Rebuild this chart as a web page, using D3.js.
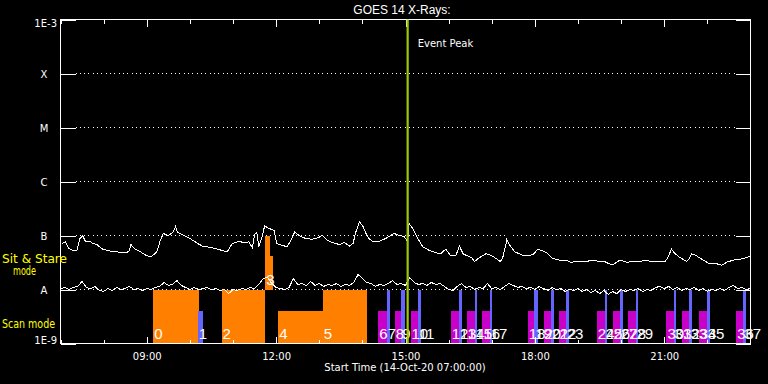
<!DOCTYPE html>
<html><head><meta charset="utf-8">
<script src="https://cdn.jsdelivr.net/npm/d3@7"></script>
<style>html,body{margin:0;padding:0;background:#000;} svg{display:block;}</style>
</head><body><svg id="chart" width="768" height="384"></svg>
<script>
// ---------------- data ----------------
const titleText = "GOES 14 X-Rays:";
const xAxisTitle = "Start Time (14-Oct-20 07:00:00)";
const day = "2020-10-14";
const timeStart = "07:00", timeEnd = "23:00";
const yTickValues = [1e-9, 1e-8, 1e-7, 1e-6, 1e-5, 1e-4, 1e-3];
const yTickLabels = ["1E-9", "A", "B", "C", "M", "X", "1E-3"];
const gridValues = [1e-8, 1e-7, 1e-6, 1e-5, 1e-4];
const xMajorTicks = ["09:00", "12:00", "15:00", "18:00", "21:00"];
const eventPeakTime = "15:03";
const eventPeakText = "Event Peak";

// long channel (1-8 A) flux, W/m^2
const longTimes = ["07:02","07:07","07:11","07:18","07:23","07:27","07:31","07:35","07:41","07:45","07:51","07:57","08:07","08:18","08:28","08:35","08:38","08:43","08:51","09:00","09:07","09:14","09:19","09:23","09:30","09:37","09:40","09:43","09:51","10:00","10:11",
"10:17","10:31","10:40","10:52","10:59","11:08","11:15","11:22","11:27","11:30","11:33","11:36","11:41","11:44","11:50","11:57","12:01","12:08","12:15","12:20","12:26","12:32","12:41","12:50","12:59","13:04","13:11","13:18","13:23",
"13:28","13:35","13:42","13:47","13:51","13:56","14:01","14:05","14:10","14:16","14:23","14:30","14:37","14:44","14:51","14:58","15:03","15:05","15:10","15:17","15:24","15:33","15:42","15:49","15:56","16:03","16:10","16:15","16:20","16:26","16:32",
"16:36","16:43","16:52","16:59","17:06","17:12","17:15","17:19","17:21","17:25","17:32","17:43","17:52","17:59","18:04","18:09","18:16","18:25","18:34","18:44","18:50","19:02","19:11","19:21","19:30","19:37","19:43",
"19:49","19:58","20:08","20:17","20:26","20:33","20:42","20:52","21:01","21:05","21:10","21:15","21:22","21:31","21:35","21:38","21:45","21:54","22:03","22:13","22:20","22:27","22:36","22:45","22:54","23:00"];
const longFlux = [7.1e-8,7.6e-8,5.9e-8,5.2e-8,5.3e-8,8.8e-8,9.9e-8,7.6e-8,7.8e-8,7.1e-8,6.8e-8,5.7e-8,5.2e-8,5.0e-8,4.8e-8,5.0e-8,6.8e-8,5.7e-8,5.0e-8,4.2e-8,4.1e-8,5.0e-8,8.2e-8,1.09e-7,9.9e-8,1.17e-7,1.45e-7,1.14e-7,1.01e-7,8.8e-8,7.1e-8,
6.4e-8,5.9e-8,5.5e-8,5.0e-8,7.1e-8,7.8e-8,7.4e-8,7.6e-8,5.9e-8,1.04e-7,1.14e-7,6.2e-8,1.01e-7,1.51e-7,1.35e-7,1.25e-7,7.1e-8,6.6e-8,6.2e-8,7.8e-8,1.17e-7,9.9e-8,8.8e-8,8.5e-8,9.1e-8,1.01e-7,8.2e-8,7.4e-8,7.1e-8,
6.8e-8,7.4e-8,6.4e-8,7.1e-8,1.17e-7,1.79e-7,1.45e-7,1.09e-7,8.5e-8,7.6e-8,7.8e-8,8.5e-8,9.5e-8,1.09e-7,1.01e-7,9.5e-8,7.8e-8,1.67e-7,1.35e-7,8.8e-8,6.2e-8,5.3e-8,4.8e-8,4.6e-8,5.6e-8,4.2e-8,4.2e-8,6.4e-8,4.6e-8,4.2e-8,3.9e-8,
3.3e-8,3.9e-8,4.6e-8,4.3e-8,3.75e-8,3.3e-8,3.75e-8,6.2e-8,8.5e-8,6.6e-8,5.0e-8,4.3e-8,4.2e-8,4.6e-8,5.6e-8,5.3e-8,4.8e-8,3.75e-8,3.5e-8,3.5e-8,3.2e-8,3.3e-8,3.3e-8,3.5e-8,3.3e-8,3.3e-8,3.0e-8,
2.9e-8,3.5e-8,3.2e-8,3.3e-8,3.3e-8,3.5e-8,3.3e-8,3.3e-8,3.3e-8,3.9e-8,5.6e-8,4.6e-8,3.9e-8,3.3e-8,3.75e-8,4.6e-8,4.2e-8,3.5e-8,3.0e-8,3.0e-8,2.8e-8,3.2e-8,3.5e-8,3.6e-8,3.9e-8,4.2e-8];

// short channel (0.5-4 A) flux in units of 1e-8 W/m^2, sampled every 6 min from 07:00
const shortStart = "07:00";
const shortStepMinutes = 6;
const shortFluxE8 = [1.04,1.09,1.00,1.09,1.14,1.41,1.09,1.04,1.14,0.96,0.92,1.04,0.96,1.09,1.00,1.04,1.14,1.00,1.04,0.96,
1.04,1.00,1.09,1.14,1.35,1.19,1.24,1.47,1.19,1.09,1.00,1.09,1.00,1.04,1.09,1.00,1.04,0.96,1.00,0.84,
1.00,0.96,1.04,1.00,1.09,1.04,1.24,1.60,1.67,1.29,1.09,1.04,1.00,1.09,1.60,1.24,1.29,1.19,1.41,1.19,
1.29,1.14,1.24,1.19,1.29,1.14,1.24,1.19,1.35,1.90,1.60,1.35,1.29,1.14,1.24,1.19,1.29,1.47,1.24,1.29,
1.19,1.67,1.35,1.24,1.29,1.19,1.35,1.24,1.29,1.14,1.00,0.96,1.14,1.29,1.09,1.14,1.00,1.09,1.04,1.29,
1.04,1.09,1.00,1.14,1.29,1.19,1.09,1.14,1.04,1.09,1.00,1.14,1.04,0.96,1.09,1.00,1.04,0.92,1.00,0.96,
1.04,0.92,1.00,0.88,0.96,0.84,0.96,0.81,0.92,0.84,1.00,0.92,1.00,0.96,1.04,0.92,1.00,0.96,1.09,1.14,
1.04,1.14,1.00,1.09,0.96,1.04,1.00,1.09,0.96,1.04,0.92,1.00,0.96,1.04,0.96,1.09,1.19,1.04,1.09,1.00,1.04];

// observations
const obsLabel = ["0","1","2","3","","4","5","6","7","8","9","10","11","12","13","14","15","16","17","18","19","20","21","22","23","24","25","26","27","28","29","30","31","32","33","34","35","36","37"];
const obsStart = ["09:09","10:11","10:44","11:45","11:45","12:03","13:05","14:22","14:34","14:45","14:54","15:07","15:17","16:03","16:14","16:25","16:36","16:47","16:57","17:50","17:59","18:12","18:22","18:33","18:43","19:26","19:37","19:48","19:58","20:10","20:20","21:03","21:13","21:25","21:35","21:48","21:59","22:40","22:50"];
const obsEnd   = ["10:12","10:18","11:45","11:56","11:51","13:05","14:06","14:34","14:38","14:54","14:59","15:17","15:21","16:14","16:18","16:36","16:40","16:57","17:01","17:59","18:04","18:22","18:26","18:43","18:48","19:37","19:41","19:58","20:03","20:20","20:24","21:13","21:17","21:35","21:39","21:59","22:03","22:50","22:54"];
const obsLow   = [1e-9,1e-9,1e-9,1e-8,1e-8,1e-9,1e-9,1e-9,1e-9,1e-9,1e-9,1e-9,1e-9,1e-9,1e-9,1e-9,1e-9,1e-9,1e-9,1e-9,1e-9,1e-9,1e-9,1e-9,1e-9,1e-9,1e-9,1e-9,1e-9,1e-9,1e-9,1e-9,1e-9,1e-9,1e-9,1e-9,1e-9,1e-9,1e-9];
const obsHigh  = [1e-8,4e-9,1e-8,4.1e-8,1e-7,4e-9,1e-8,4e-9,1e-8,4e-9,1e-8,4e-9,1e-8,4e-9,1e-8,4e-9,1e-8,4e-9,1e-8,4e-9,1e-8,4e-9,1e-8,4e-9,1e-8,4e-9,1e-8,4e-9,1e-8,4e-9,1e-8,4e-9,1e-8,4e-9,1e-8,4e-9,1e-8,4e-9,1e-8];
const obsKind  = ["k1","k2","k1","k1","k1","k1","k1","k3","k2","k3","k2","k3","k2","k3","k2","k3","k2","k3","k2","k3","k2","k3","k2","k3","k2","k3","k2","k3","k2","k3","k2","k3","k2","k3","k2","k3","k2","k3","k2"];

// ---------------- drawing ----------------
const kindColor = {k1: "#ff8000", k2: "#6464ff", k3: "#c800c8"};
const parse = d3.timeParse("%Y-%m-%d %H:%M");
const T = s => parse(day + " " + s);

const L = 60.5, R = 750.5, TOP = 19.5, BOT = 343.5;
const x = d3.scaleTime().domain([T(timeStart), T(timeEnd)]).range([L, R]);
const y = d3.scaleLog().domain([1e-9, 1e-3]).range([BOT, TOP]);

const svg = d3.select("#chart");
svg.append("rect").attr("width", 768).attr("height", 384).attr("fill", "#000");

const axisFont = "'DejaVu Sans', sans-serif";

// dotted grid
svg.append("g").selectAll("line").data(gridValues).join("line")
  .attr("x1", L + 15).attr("x2", R - 15)
  .attr("y1", d => y(d)).attr("y2", d => y(d))
  .attr("stroke", "#fff").attr("stroke-width", 1)
  .attr("stroke-dasharray", "1 3.33").attr("shape-rendering", "crispEdges");

// observation bars
const obs = obsLabel.map((l, i) => ({label: l, s: T(obsStart[i]), e: T(obsEnd[i]), lo: obsLow[i], hi: obsHigh[i], kind: obsKind[i]}));
svg.append("g").selectAll("rect").data(obs).join("rect")
  .attr("x", d => x(d.s)).attr("width", d => x(d.e) - x(d.s))
  .attr("y", d => y(d.hi)).attr("height", d => y(d.lo) - y(d.hi))
  .attr("fill", d => kindColor[d.kind]).attr("shape-rendering", "crispEdges");

// curves
const longData = longTimes.map((t, i) => ({t: T(t), v: longFlux[i]}));
const s0 = T(shortStart);
const shortData = shortFluxE8.map((v, i) => ({t: d3.timeMinute.offset(s0, i * shortStepMinutes), v: v * 1e-8}));
const line = d3.line().x(d => x(d.t)).y(d => y(d.v));
[longData, shortData].forEach(dd => {
  svg.append("path").datum(dd).attr("d", line)
    .attr("fill", "none").attr("stroke", "#fff").attr("stroke-width", 1)
    .attr("shape-rendering", "crispEdges");
});

// observation labels
svg.append("g").selectAll("text").data(obs.filter(d => d.label !== "")).join("text")
  .attr("x", d => x(d.s) + 1).attr("y", d => y(d.lo) - 5)
  .attr("fill", "#fff").attr("font-family", "'Liberation Sans', Arial, sans-serif")
  .attr("font-size", 15).text(d => d.label);

// frame
svg.append("rect").attr("x", L).attr("y", TOP).attr("width", R - L).attr("height", BOT - TOP)
  .attr("fill", "none").attr("stroke", "#fff").attr("shape-rendering", "crispEdges");

// axes ticks
const hours = d3.timeHour.every(1).range(T(timeStart), T(timeEnd));
const majors = xMajorTicks.map(T);
function styleAxis(g) {
  g.select(".domain").remove();
  g.selectAll("line").attr("stroke", "#fff").attr("shape-rendering", "crispEdges");
}
svg.append("g").attr("transform", `translate(0,${TOP})`)
  .call(d3.axisTop(x).tickValues(hours).tickSize(-4).tickFormat("")).call(styleAxis);
svg.append("g").attr("transform", `translate(0,${TOP})`)
  .call(d3.axisTop(x).tickValues(majors).tickSize(-7).tickFormat("")).call(styleAxis);
svg.append("g").attr("transform", `translate(0,${BOT})`)
  .call(d3.axisBottom(x).tickValues(hours).tickSize(-4).tickFormat("")).call(styleAxis);
const xb = svg.append("g").attr("transform", `translate(0,${BOT})`)
  .call(d3.axisBottom(x).tickValues(majors).tickSize(-7).tickPadding(9).tickFormat(d3.timeFormat("%H:%M")));
styleAxis(xb);
xb.selectAll("text").attr("fill", "#fff").attr("font-family", axisFont).attr("font-size", 10);

svg.append("g").attr("transform", `translate(${L},0)`)
  .call(d3.axisLeft(y).tickValues(yTickValues).tickSize(-15).tickFormat("")).call(styleAxis);
svg.append("g").attr("transform", `translate(${R},0)`)
  .call(d3.axisRight(y).tickValues(yTickValues).tickSize(-15).tickFormat("")).call(styleAxis);

// y labels
yTickValues.forEach((v, i) => {
  const lab = yTickLabels[i];
  const t = svg.append("text").attr("fill", "#fff").attr("font-family", axisFont).attr("font-size", 10).text(lab);
  if (i === yTickValues.length - 1) t.attr("x", 57).attr("y", y(v) + 7.5).attr("text-anchor", "end");
  else if (i === 0) t.attr("x", 57).attr("y", y(v)).attr("text-anchor", "end");
  else t.attr("x", 44).attr("y", y(v) + 4).attr("text-anchor", "middle");
});

// event peak
const xp = x(T(eventPeakTime));
svg.append("line").attr("x1", xp).attr("x2", xp).attr("y1", TOP).attr("y2", BOT)
  .attr("stroke", "#a0c800").attr("stroke-width", 2.2);
svg.append("text").attr("x", xp + 10).attr("y", 47).attr("fill", "#fff")
  .attr("font-family", axisFont).attr("font-size", 10).text(eventPeakText);

// title and axis title
svg.append("text").attr("x", 402).attr("y", 14).attr("text-anchor", "middle").attr("fill", "#fff")
  .attr("font-family", "'Liberation Sans', Arial, sans-serif").attr("font-size", 12).text(titleText);
svg.append("text").attr("x", 405).attr("y", 371).attr("text-anchor", "middle").attr("fill", "#fff")
  .attr("font-family", axisFont).attr("font-size", 10).text(xAxisTitle);

// mode labels
const modeText = [["Sit & Stare", 2, 263, 65], ["mode", 13, 275, 23], ["Scan mode", 2, 328, 53]];
modeText.forEach(([t, tx, ty, w]) => {
  svg.append("text").attr("x", tx).attr("y", ty).attr("fill", "#ffff00")
    .attr("font-family", axisFont).attr("font-size", 12)
    .attr("textLength", w).attr("lengthAdjust", "spacingAndGlyphs").text(t);
});
</script></body></html>
